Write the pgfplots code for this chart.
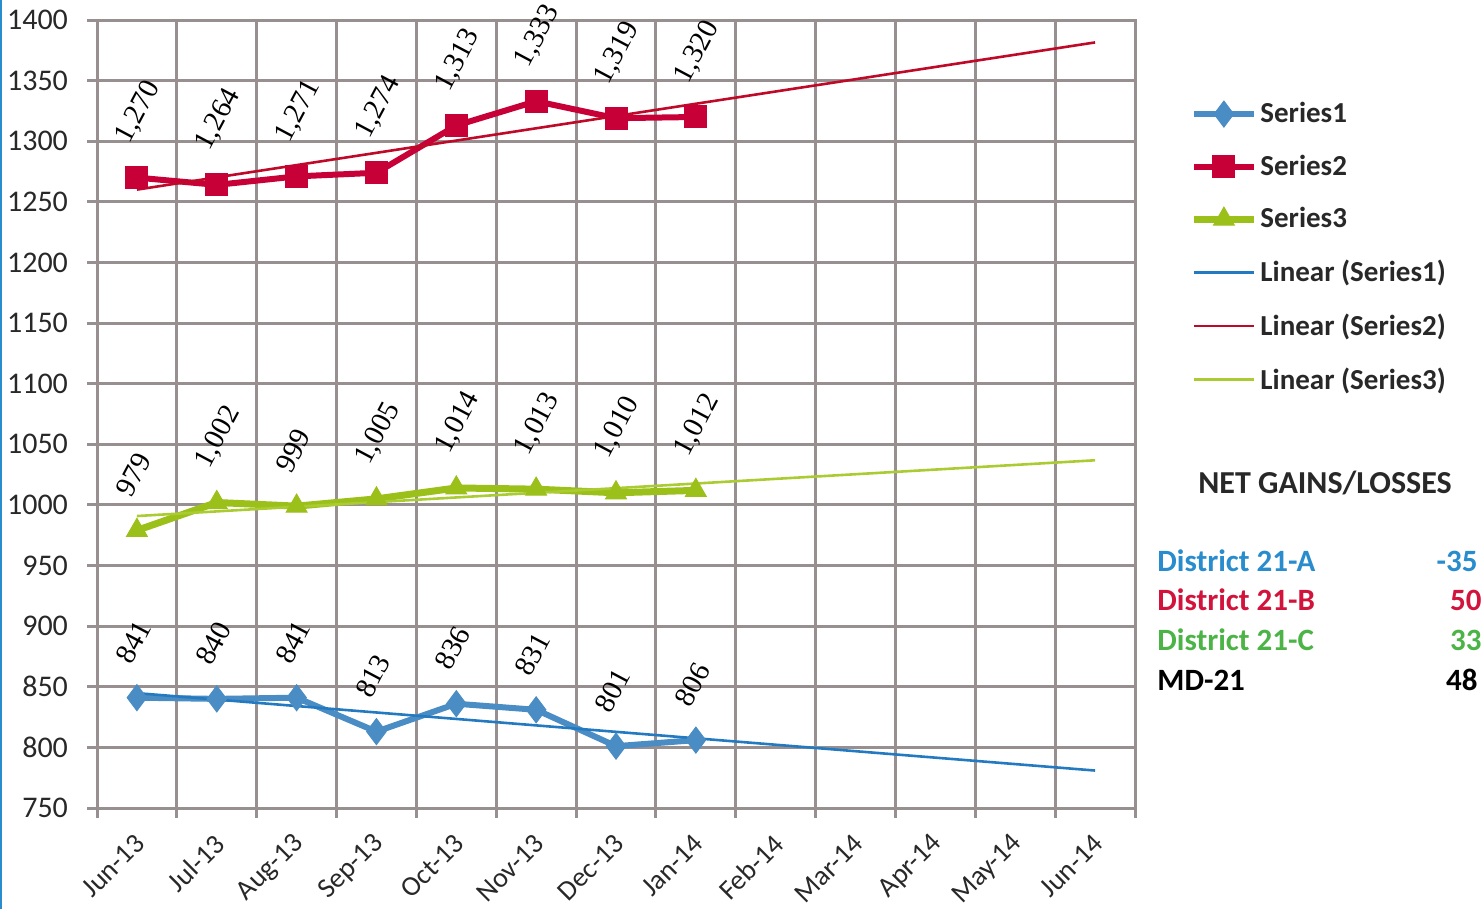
\documentclass[border=0pt]{standalone}
\usepackage{pgfplots}
\pgfplotsset{compat=1.18}
\usepackage{fontspec}
\setmainfont{Carlito}
\newfontfamily\lblfont{Liberation Serif}

\definecolor{gridgray}{RGB}{152,144,144}
\definecolor{sOne}{RGB}{74,140,196}
\definecolor{tOne}{RGB}{36,122,192}
\definecolor{sTwo}{RGB}{200,0,56}
\definecolor{tTwo}{RGB}{190,10,40}
\definecolor{sThree}{RGB}{156,192,26}
\definecolor{tThree}{RGB}{170,204,50}
\definecolor{dA}{RGB}{40,140,205}
\definecolor{dB}{RGB}{210,20,60}
\definecolor{dC}{RGB}{76,180,70}
\definecolor{txt}{RGB}{40,40,40}

\pgfplotsset{
  lbl/.style={
    nodes near coords,
    every node near coord/.append style={
      xshift=-7pt, yshift=18pt, rotate=62, anchor=west, inner sep=0pt,
      font=\lblfont\fontsize{14.5}{14.5}\selectfont, text=black},
  },
}

\begin{document}
\begin{tikzpicture}
\path[use as bounding box] (0,0) rectangle (740.5pt,454.5pt);
\draw[dA, line width=1pt] (0.5pt,0) -- (0.5pt,454.5pt);
\begin{axis}[
    at={(48.5pt,50.5pt)}, anchor=south west,
    scale only axis, width=519pt, height=394pt,
    xmin=-0.5, xmax=12.5,
    ymin=750, ymax=1400,
    xtick={0,...,12},
    xticklabels={Jun-13,Jul-13,Aug-13,Sep-13,Oct-13,Nov-13,Dec-13,Jan-14,Feb-14,Mar-14,Apr-14,May-14,Jun-14},
    minor xtick={-0.5,0.5,...,12.5},
    ytick={750,800,...,1400},
    tick pos=left,
    tick align=outside,
    major tick length=5pt, minor tick length=5pt,
    major x tick style={draw=none},
    ymajorgrids=true, xminorgrids=true,
    grid style={gridgray, line width=1.5pt},
    minor grid style={gridgray, line width=1.5pt},
    axis line style={gridgray, line width=1.5pt},
    tick style={gridgray, line width=1.5pt},
    /pgf/number format/assume math mode=true,
    ticklabel style={font=\fontsize{14}{14}\selectfont, text=txt},
    yticklabel style={/pgf/number format/1000 sep={}, font=\fontsize{15}{15}\selectfont, xshift=-6pt},
    xticklabel style={rotate=45, anchor=east, xshift=-3pt, yshift=-8.5pt},
    clip=false,
    legend image code/.code={
      \draw[mark repeat=2, mark phase=2] plot coordinates {(0pt,0pt) (15pt,0pt) (30pt,0pt)};
    },
    legend style={
      at={(1.053,0.901)}, anchor=north west,
      draw=none, fill=none, inner sep=0pt,
      row sep=10.6pt,
      font=\bfseries\fontsize{14.5}{14.5}\selectfont, text=txt,
      nodes={inner xsep=1.5pt},
    },
    legend cell align=left,
]
% Series1
\addplot[sOne, line width=3pt, mark=diamond*, mark size=6.5pt,
  mark options={solid, line width=0.5pt}, lbl]
  coordinates {(0,841)(1,840)(2,841)(3,813)(4,836)(5,831)(6,801)(7,806)};
\addlegendentry{Series1}
% Series2
\addplot[sTwo, line width=3pt, mark=square*, mark size=5.5pt,
  mark options={solid, line width=0.5pt}, lbl]
  coordinates {(0,1270)(1,1264)(2,1271)(3,1274)(4,1313)(5,1333)(6,1319)(7,1320)};
\addlegendentry{Series2}
% Series3
\addplot[sThree, line width=3.5pt, mark=triangle*, mark size=6pt,
  mark options={solid, line width=0.5pt}, lbl]
  coordinates {(0,979)(1,1002)(2,999)(3,1005)(4,1014)(5,1013)(6,1010)(7,1012)};
\addlegendentry{Series3}
% linear trends
\addplot[tOne, line width=1.3pt] coordinates {(0,844.75)(12,780.89)};
\addlegendentry{Linear (Series1)}
\addplot[tTwo, line width=1.3pt] coordinates {(0,1260.08)(12,1381.51)};
\addlegendentry{Linear (Series2)}
\addplot[tThree, line width=1.3pt] coordinates {(0,990.83)(12,1036.83)};
\addlegendentry{Linear (Series3)}
\end{axis}

\node[font=\bfseries\fontsize{16}{16}\selectfont, text=txt] at (662.5pt,213pt) {NET GAINS/LOSSES};
\begin{scope}[every node/.style={font=\bfseries\fontsize{15.5}{15.5}\selectfont, inner sep=0pt}]
\node[anchor=west, text=dA] at (578.5pt,174pt) {District 21-A};
\node[anchor=west, text=dB] at (578.5pt,154.5pt) {District 21-B};
\node[anchor=west, text=dC] at (578.5pt,134.5pt) {District 21-C};
\node[anchor=west, text=black] at (578.5pt,114.5pt) {MD-21};
\node[anchor=east, text=dA] at (739pt,174pt) {-35};
\node[anchor=east, text=dB] at (741pt,154.5pt) {50};
\node[anchor=east, text=dC] at (741pt,134.5pt) {33};
\node[anchor=east, text=black] at (739pt,114.5pt) {48};
\end{scope}
\end{tikzpicture}
\end{document}
